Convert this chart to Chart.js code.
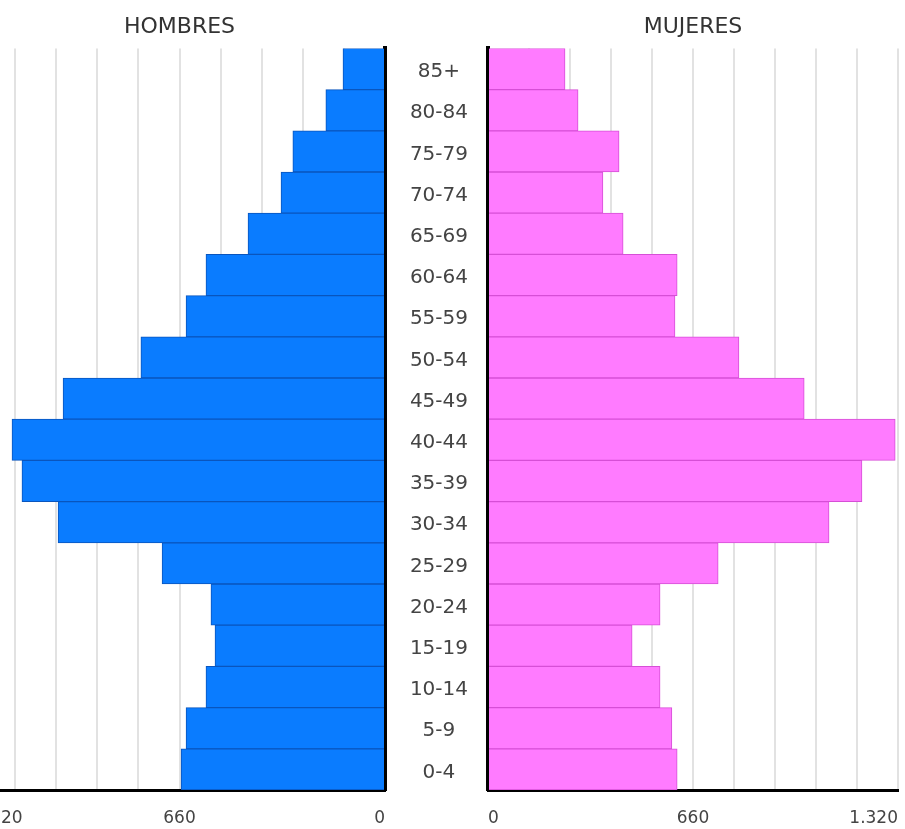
<!DOCTYPE html>
<html>
<head>
<meta charset="utf-8">
<script src="https://cdn.jsdelivr.net/npm/chart.js@4"></script>
<style>
  html, body { margin: 0; padding: 0; background: #fff; }
  #wrap { position: relative; width: 905px; height: 829px; overflow: hidden; background: #fff; }
  #left { position: absolute; left: -60px; top: 0; }
  #right { position: absolute; left: 386px; top: 0; }
</style>
</head>
<body>
<div id="wrap">
  <canvas id="left" width="449" height="829"></canvas>
  <canvas id="right" width="519" height="829"></canvas>
</div>
<script>
// Pyramid data, oldest group first (top of the chart)
const ageGroups = ['85+', '80-84', '75-79', '70-74', '65-69', '60-64', '55-59', '50-54', '45-49',
  '40-44', '35-39', '30-34', '25-29', '20-24', '15-19', '10-14', '5-9', '0-4'];
const hombres = [135, 190, 296, 334, 440, 575, 639, 784, 1034, 1198, 1166, 1050, 716, 559, 546, 575, 639, 655];
const mujeres = [248, 290, 422, 370, 435, 609, 602, 808, 1018, 1311, 1204, 1098, 741, 554, 464, 554, 592, 609];

// Axis: gridline every 132, labels only at these values
const axisMax = 1320;
const gridStep = 132;
const labeledTicks = [0, 660, 1320];

Chart.defaults.font.family = 'DejaVu Sans';

function fmtTick(v) {
  const a = Math.abs(v);
  if (!labeledTicks.includes(a)) return '';
  return String(a).replace(/\B(?=(\d{3})+(?!\d))/g, '.');
}

// left side runs from -max to 0 so the bars grow leftwards
function xScale(min, max) {
  return {
    min,
    max,
    ticks: {
      stepSize: gridStep,
      autoSkip: false,
      maxRotation: 0,
      align: 'inner',
      padding: 2,
      color: '#444',
      font: { size: 17, lineHeight: 1.0 },
      callback: fmtTick
    },
    grid: { color: '#e2e2e2', lineWidth: 2, drawTicks: true, tickLength: 18, tickColor: 'transparent' },
    border: { color: '#000', width: 3 }
  };
}

function titleOpts(text) {
  return {
    display: true,
    text,
    fullSize: false,
    color: '#333',
    font: { size: 22, weight: 'normal' },
    padding: { top: 14, bottom: 8 }
  };
}

// Left: HOMBRES
new Chart(document.getElementById('left'), {
  type: 'bar',
  data: {
    labels: ageGroups,
    datasets: [{
      data: hombres.map(v => -v),
      backgroundColor: '#0a7cff',
      borderColor: '#0a55bd',
      borderWidth: 1,
      barPercentage: 1,
      categoryPercentage: 1
    }]
  },
  options: {
    indexAxis: 'y',
    responsive: false,
    animation: false,
    layout: { padding: { left: 34, right: 0, top: 0, bottom: 0 } },
    plugins: { legend: { display: false }, tooltip: { enabled: false }, title: titleOpts('HOMBRES') },
    scales: {
      x: xScale(-axisMax, 0),
      y: {
        position: 'right',
        ticks: { display: false },
        grid: { display: false, drawTicks: false },
        border: { color: '#000', width: 4 },
        afterFit: s => { s.width = 4; }
      }
    }
  }
});

// Right: MUJERES, age labels in the middle column
new Chart(document.getElementById('right'), {
  type: 'bar',
  data: {
    labels: ageGroups,
    datasets: [{
      data: mujeres,
      backgroundColor: '#ff7bff',
      borderColor: '#d64fd6',
      borderWidth: 1,
      barPercentage: 1,
      categoryPercentage: 1
    }]
  },
  options: {
    indexAxis: 'y',
    responsive: false,
    animation: false,
    layout: { padding: { left: 0, right: 7, top: 0, bottom: 0 } },
    plugins: { legend: { display: false }, tooltip: { enabled: false }, title: titleOpts('MUJERES') },
    scales: {
      x: xScale(0, axisMax),
      y: {
        position: 'left',
        ticks: { crossAlign: 'center', padding: 20, labelOffset: 3, color: '#444', font: { size: 20 } },
        grid: { display: false, drawTicks: false },
        border: { color: '#000', width: 4 },
        afterFit: s => { s.width = 102; }
      }
    }
  }
});
</script>
</body>
</html>
